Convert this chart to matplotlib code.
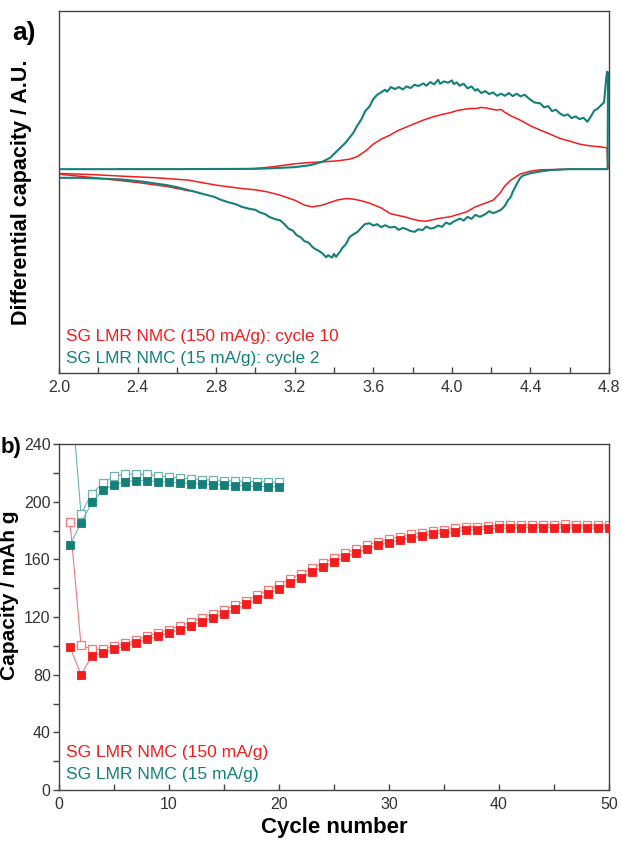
import matplotlib
matplotlib.use("Agg")
import matplotlib.pyplot as plt
from matplotlib.ticker import MultipleLocator

plt.rcParams['font.family'] = ['Liberation Sans', 'DejaVu Sans']

# ---------------- Panel a data (voltage V, differential capacity A.U.) ----------------
teal_v = [2.00, 2.60, 3.00, 3.10, 3.20, 3.28, 3.34, 3.38, 3.42, 3.46, 3.50, 3.515, 3.54, 3.56, 3.58,
          3.60, 3.62, 3.64, 3.66, 3.67, 3.69, 3.71, 3.73, 3.75, 3.77, 3.79, 3.81, 3.83, 3.855, 3.87,
          3.89, 3.91, 3.93, 3.94, 3.96, 3.98, 4.00, 4.01, 4.025, 4.04, 4.06, 4.08, 4.10, 4.12, 4.13,
          4.15, 4.17, 4.19, 4.21, 4.23, 4.25, 4.27, 4.29, 4.31, 4.33, 4.35, 4.37, 4.40, 4.42, 4.45,
          4.47, 4.49, 4.51, 4.53, 4.55, 4.57, 4.59, 4.61, 4.63, 4.65, 4.67, 4.69, 4.71, 4.725, 4.74,
          4.76, 4.775, 4.785, 4.79, 4.795, 4.793,
          4.79, 4.60, 4.50, 4.45, 4.40, 4.36, 4.347, 4.33, 4.31, 4.30, 4.286, 4.27, 4.25, 4.228, 4.21,
          4.19, 4.17, 4.143, 4.12, 4.10, 4.08, 4.06, 4.04, 4.007, 3.99, 3.97, 3.95, 3.93, 3.91, 3.89,
          3.87, 3.85, 3.83, 3.81, 3.787, 3.77, 3.75, 3.73, 3.71, 3.685, 3.66, 3.64, 3.62, 3.60, 3.58,
          3.557, 3.54, 3.52, 3.50, 3.48, 3.46, 3.44, 3.43, 3.41, 3.40, 3.39, 3.37, 3.36, 3.34, 3.32,
          3.30, 3.29, 3.27, 3.25, 3.23, 3.21, 3.19, 3.17, 3.15, 3.125, 3.10, 3.07, 3.05, 3.02, 3.00,
          2.97, 2.93, 2.90, 2.86, 2.82, 2.79, 2.75, 2.70, 2.66, 2.60, 2.55, 2.49, 2.42, 2.32, 2.20,
          2.10, 2.00]
teal_dq = [0.0, 0.0, 0.1, 0.3, 0.6, 1.2, 2.2, 3.4, 5.7, 8.0, 11.0, 12.7, 15.0, 17.5, 18.7,
           21.0, 22.3, 23.0, 23.8, 23.2, 24.6, 24.0, 24.6, 23.9, 24.8, 24.3, 25.3, 24.9, 25.7, 25.0,
           26.1, 25.4, 26.8, 25.6, 26.3, 25.9, 26.6, 25.5, 26.0, 25.0, 25.6, 24.2, 24.8, 23.5, 24.0,
           22.8, 23.4, 22.5, 23.0, 22.0, 22.6, 22.0, 22.8, 21.9, 22.6, 21.8, 22.3, 20.8, 20.0, 19.7,
           18.5, 18.9, 17.4, 17.8, 16.7, 16.0, 16.4, 15.3, 15.8, 15.0, 15.4, 14.2, 16.0, 17.6, 18.0,
           19.2, 20.0, 26.7, 29.2, 29.0, 0.5,
           0.0, 0.0, -0.3, -0.7, -1.2, -2.0, -2.7, -4.5, -6.8, -8.3, -9.3, -11.0, -12.2, -12.8, -13.2,
           -12.6, -13.5, -14.3, -13.7, -14.9, -14.3, -15.4, -14.8, -15.8, -16.5, -16.0, -17.3, -16.9, -17.6, -17.8,
           -17.2, -18.3, -18.0, -18.8, -18.5, -18.0, -17.6, -18.2, -17.3, -17.5, -16.8, -17.4, -16.5, -16.9, -16.2,
           -16.5, -17.5, -18.8, -19.5, -20.3, -22.5, -23.8, -24.8, -26.3, -25.4, -26.5, -25.8, -26.4, -25.2, -24.4,
           -23.8, -23.3, -22.0, -21.6, -20.4, -19.8, -18.4, -17.9, -16.6, -15.3, -15.0, -14.3, -13.5, -12.9, -12.2,
           -11.9, -11.3, -10.5, -9.9, -9.1, -8.3, -7.7, -6.9, -6.3, -5.4, -4.8, -4.3, -3.7, -3.1, -2.8,
           -2.6, -2.6]

red_v = [2.30, 2.90, 3.00, 3.04, 3.10, 3.15, 3.20, 3.28, 3.35, 3.42, 3.48, 3.52, 3.566, 3.60, 3.64,
         3.685, 3.72, 3.76, 3.80, 3.855, 3.90, 3.95, 3.99, 4.03, 4.07, 4.10, 4.127, 4.15, 4.18, 4.20,
         4.228, 4.25, 4.27, 4.30, 4.347, 4.40, 4.45, 4.50, 4.55, 4.60, 4.65, 4.70, 4.75, 4.79, 4.795,
         4.78, 4.60, 4.45, 4.40, 4.347, 4.30, 4.27, 4.245, 4.21, 4.17, 4.12, 4.075, 4.03, 3.99, 3.94,
         3.90, 3.87, 3.838, 3.80, 3.76, 3.72, 3.685, 3.64, 3.58, 3.54, 3.50, 3.465, 3.42, 3.38, 3.34,
         3.29, 3.25, 3.20, 3.125, 3.06, 3.00, 2.93, 2.80, 2.66, 2.50, 2.32, 2.16, 2.00]
red_dq = [0.0, 0.0, 0.2, 0.4, 0.8, 1.2, 1.6, 2.0, 2.2, 2.5, 3.0, 3.8, 5.7, 7.5, 9.0,
          10.2, 11.4, 12.4, 13.4, 14.7, 15.6, 16.4, 16.9, 17.6, 18.0, 18.2, 18.2, 18.5, 18.3, 18.0,
          17.7, 17.9, 17.0, 16.0, 14.7, 13.0, 11.7, 10.5, 9.2, 8.4, 7.5, 7.0, 6.7, 6.4, 0.0,
          0.0, 0.0, -0.2, -0.6, -1.5, -3.3, -5.0, -7.2, -9.3, -10.2, -11.3, -12.8, -13.6, -14.3, -14.7,
          -15.2, -15.6, -15.5, -15.0, -14.3, -13.8, -13.3, -11.6, -10.2, -9.5, -9.0, -8.8, -9.2, -10.0, -10.8,
          -11.3, -10.8, -9.3, -7.8, -6.8, -6.2, -5.8, -4.8, -3.3, -2.6, -2.1, -1.6, -1.3]

red_tail_v = [2.00, 2.20, 2.40, 2.55, 2.66]
red_tail_dq = [-1.5, -2.7, -4.0, -5.2, -6.5]

# ---------------- Panel b data (cycle number, capacity mAh/g) ----------------
red_cycles = list(range(1, 51))
red_filled = [99.1, 79.9, 93.2, 95.2, 97.7, 99.8, 102.0, 104.4, 106.7, 109.0,
              111.3, 113.8, 116.8, 119.3, 122.3, 125.3, 128.7, 132.2, 136.0, 139.7,
              143.6, 147.3, 151.0, 154.7, 158.3, 161.5, 164.5, 167.3, 169.6, 171.6,
              173.2, 174.9, 176.2, 177.4, 178.3, 179.2, 180.1, 180.6, 181.0, 181.5,
              181.7, 182.0, 182.0, 182.0, 182.0, 182.0, 181.7, 181.7, 181.7, 181.7]
red_open = [185.9, 100.5, 97.5, 97.5, 99.8, 101.8, 104.0, 106.6, 109.0, 111.3,
            113.8, 116.4, 119.4, 122.0, 125.0, 128.0, 131.4, 135.0, 138.8, 142.4,
            146.4, 150.0, 153.8, 157.4, 161.0, 164.2, 167.1, 169.9, 172.2, 174.1,
            175.7, 177.3, 178.6, 179.7, 180.6, 181.5, 182.2, 182.7, 183.1, 183.5,
            183.7, 184.0, 184.0, 184.0, 184.0, 184.2, 183.6, 183.6, 183.6, 183.6]

teal_cycles = list(range(1, 21))
teal_filled = [169.8, 185.4, 199.6, 208.0, 211.8, 213.9, 214.6, 214.6, 213.9, 213.4,
               213.0, 212.5, 212.3, 211.8, 211.6, 211.1, 210.9, 210.6, 210.4, 210.2]
teal_open = [285.0, 191.5, 205.6, 213.0, 217.5, 219.0, 219.0, 218.9, 218.0, 217.0,
             216.4, 216.0, 215.2, 215.0, 214.6, 214.3, 214.0, 213.9, 213.6, 213.4]

RED = '#f41c1c'
TEAL = '#157f7a'
RED_LIGHT = '#f27a7a'
TEAL_LIGHT = '#6fb3ae'
FRAME = '#444444'
TXT = '#333333'

fig = plt.figure(figsize=(6.22, 8.5), dpi=100)

# ---------------- Panel a ----------------
ax1 = fig.add_axes([59/622, 1-373/850, 550/622, 362/850])
ax1.plot(red_tail_v, red_tail_dq, color=RED, lw=1.1)
ax1.plot(red_v, red_dq, color=RED, lw=1.1)
ax1.plot(teal_v, teal_dq, color=TEAL, lw=1.5)
ax1.set_xlim(2.0, 4.8)
ax1.set_ylim(-61.1, 47.4)
ax1.xaxis.set_minor_locator(MultipleLocator(0.2))
ax1.set_xticks([2.0, 2.4, 2.8, 3.2, 3.6, 4.0, 4.4, 4.8])
ax1.set_xticklabels(['2.0', '2.4', '2.8', '3.2', '3.6', '4.0', '4.4', '4.8'])
ax1.set_yticks([])
ax1.tick_params(axis='x', which='major', direction='in', length=4, width=1, color=FRAME,
                labelsize=11.5, labelcolor=TXT, pad=5)
ax1.tick_params(axis='x', which='minor', direction='in', length=4, width=1, color=FRAME)
for s in ax1.spines.values():
    s.set_color(FRAME)
    s.set_linewidth(1.0)
ax1.text(7/550, 36/362, 'SG LMR NMC (150 mA/g): cycle 10', transform=ax1.transAxes,
         color=RED, fontsize=12.4, va='center', ha='left')
ax1.text(7/550, 15/362, 'SG LMR NMC (15 mA/g): cycle 2', transform=ax1.transAxes,
         color=TEAL, fontsize=12.4, va='center', ha='left')

fig.text(22/622, 1-192/850, 'Differential capacity / A.U.', rotation=90, fontsize=15.5,
         fontweight='bold', ha='center', va='center', color='black')
fig.text(12/622, 1-33/850, 'a)', fontsize=19, fontweight='bold', ha='left', va='center')

# ---------------- Panel b ----------------
ax2 = fig.add_axes([59/622, 1-790/850, 550/622, 346/850])
ax2.plot(red_cycles, red_open, color=RED_LIGHT, lw=0.8, marker='s', markersize=6.2,
         markerfacecolor='white', markeredgecolor=RED_LIGHT, markeredgewidth=0.9, zorder=2)
ax2.plot(red_cycles, red_filled, color=RED_LIGHT, lw=0.8, marker='s', markersize=6.2,
         markerfacecolor=RED, markeredgecolor=RED, markeredgewidth=0.6, zorder=3)
ax2.plot(teal_cycles, teal_open, color=TEAL_LIGHT, lw=0.8, marker='s', markersize=6.2,
         markerfacecolor='white', markeredgecolor=TEAL_LIGHT, markeredgewidth=0.9, zorder=2)
ax2.plot(teal_cycles, teal_filled, color=TEAL_LIGHT, lw=0.8, marker='s', markersize=6.2,
         markerfacecolor=TEAL, markeredgecolor=TEAL, markeredgewidth=0.6, zorder=3)
ax2.set_xlim(0, 50)
ax2.set_ylim(0, 240)
ax2.xaxis.set_major_locator(MultipleLocator(10))
ax2.xaxis.set_minor_locator(MultipleLocator(5))
ax2.yaxis.set_major_locator(MultipleLocator(40))
ax2.yaxis.set_minor_locator(MultipleLocator(20))
ax2.tick_params(axis='x', which='major', direction='in', length=4, width=1, color=FRAME,
                labelsize=11.5, labelcolor=TXT, pad=5)
ax2.tick_params(axis='x', which='minor', direction='in', length=4, width=1, color=FRAME)
ax2.tick_params(axis='y', which='major', direction='out', length=4, width=1, color=FRAME,
                labelsize=11.5, labelcolor=TXT, pad=2)
ax2.tick_params(axis='y', which='minor', direction='out', length=4, width=1, color=FRAME)
for s in ax2.spines.values():
    s.set_color(FRAME)
    s.set_linewidth(1.0)
ax2.text(7/550, 38/346, 'SG LMR NMC (150 mA/g)', transform=ax2.transAxes,
         color=RED, fontsize=12.6, va='center', ha='left')
ax2.text(7/550, 16/346, 'SG LMR NMC (15 mA/g)', transform=ax2.transAxes,
         color=TEAL, fontsize=12.6, va='center', ha='left')
ax2.set_xlabel('Cycle number', fontsize=16, fontweight='bold', labelpad=4)

fig.text(10/622, 1-595/850, 'Capacity / mAh g', rotation=90, fontsize=15,
         fontweight='bold', ha='center', va='center', color='black')
fig.text(1/622, 1-447/850, 'b)', fontsize=16, fontweight='bold', ha='left', va='center')

fig.savefig('out.png', dpi=100)
